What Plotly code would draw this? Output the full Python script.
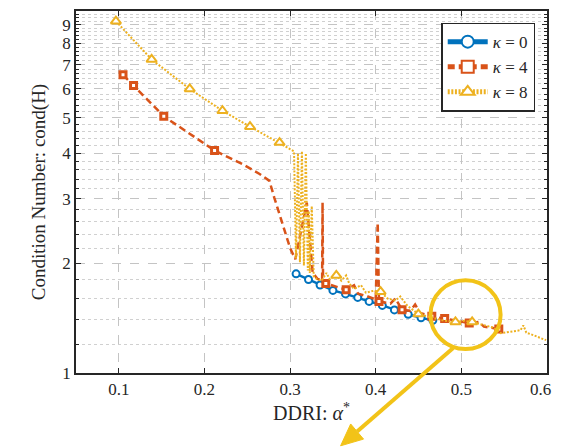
import plotly.graph_objects as go

# ---- data ----
k0_x = [0.307, 0.3215, 0.335, 0.350, 0.3647, 0.379, 0.3923, 0.4077, 0.4218, 0.4379, 0.4529, 0.4667]
k0_y = [1.869, 1.804, 1.742, 1.684, 1.647, 1.611, 1.571, 1.532, 1.489, 1.448, 1.416, 1.394]
k0_marks = list(range(len(k0_x)))

k4_x = [0.1049, 0.1172, 0.1525, 0.2118, 0.2448, 0.2644, 0.2759, 0.2816, 0.2908, 0.3000,
        0.3061, 0.3195, 0.3264, 0.3322, 0.3374, 0.3379, 0.3385, 0.3417, 0.3517, 0.3655,
        0.3747, 0.3793, 0.3908, 0.4000, 0.4023, 0.4038, 0.4172, 0.4230, 0.4307, 0.4402,
        0.4460, 0.4517, 0.4655, 0.4805, 0.4943, 0.5092, 0.5207, 0.5264, 0.5437]
k4_y = [6.56, 6.13, 5.05, 4.07, 3.73, 3.51, 3.36, 3.02, 2.56, 2.20,
        2.05, 2.93, 1.88, 1.81, 1.79, 2.93, 1.77, 1.76, 1.73, 1.69,
        1.74, 1.65, 1.62, 1.59, 2.58, 1.57, 1.55, 1.60, 1.49, 1.48,
        1.54, 1.46, 1.43, 1.41, 1.39, 1.37, 1.38, 1.34, 1.32]
k4_marks = [0, 1, 2, 3, 17, 19, 25, 28, 32, 33, 35, 38]

k8_x = [0.0966, 0.1383, 0.1828, 0.2210, 0.2532, 0.2877, 0.2966, 0.3046, 0.3069, 0.3092,
        0.3115, 0.3138, 0.3161, 0.3184, 0.3207, 0.3218, 0.3230, 0.3253, 0.3276, 0.3310,
        0.3368, 0.3425, 0.3460, 0.3540, 0.3598, 0.3655, 0.3690, 0.3747, 0.3828, 0.3885,
        0.3977, 0.4057, 0.4138, 0.4230, 0.4287, 0.4368, 0.4498, 0.4598, 0.4690, 0.4805,
        0.4931, 0.5034, 0.5126, 0.5264, 0.5379, 0.5460, 0.5609, 0.5690, 0.5724, 0.5759,
        0.5839, 0.5989]
k8_y = [9.20, 7.23, 6.00, 5.23, 4.73, 4.28, 4.15, 4.05, 2.06, 4.00,
        2.01, 4.05, 1.97, 4.00, 1.91, 2.78, 1.88, 2.87, 1.84, 1.81,
        1.79, 1.88, 1.81, 1.85, 1.79, 1.85, 1.76, 1.70, 1.74, 1.66,
        1.68, 1.67, 1.60, 1.58, 1.62, 1.53, 1.45, 1.43, 1.41, 1.39,
        1.38, 1.39, 1.38, 1.35, 1.33, 1.285, 1.30, 1.31, 1.35, 1.29,
        1.27, 1.23]
k8_marks = [0, 1, 2, 3, 4, 5, 23, 31, 36, 40, 42]

series_names = ["<i>κ</i> = 0", "<i>κ</i> = 4", "<i>κ</i> = 8"]
x_ticks = [0.1, 0.2, 0.3, 0.4, 0.5, 0.6]
y_ticks = [1, 2, 3, 4, 5, 6, 7, 8, 9]
y_minor = [round(1 + 0.2 * i, 1) for i in range(0, 45) if abs((1 + 0.2 * i) - round(1 + 0.2 * i)) > 1e-6]

# ---- styles ----
BLUE = "#0072BD"
ORANGE = "#D95319"
YELLOW = "#EDB120"
GOLD = "#F2C318"
FONT = "Liberation Serif, Times New Roman, serif"
TXT = "#262626"

# last x label nudged left (trailing spaces) so it stays inside the visible page
x_ticktext = [str(v) for v in x_ticks]
x_ticktext[-1] = x_ticktext[-1] + "&nbsp;&nbsp;&nbsp;"

fig = go.Figure()

specs = [
    (k0_x, k0_y, k0_marks, BLUE, "solid", 2.5, "circle", 7, 2),
    (k4_x, k4_y, k4_marks, ORANGE, "7px,4px", 2.5, "square", 6, 3),
    (k8_x, k8_y, k8_marks, YELLOW, "2px,1.6px", 2, "triangle-up", 9, 2),
]

for (xs, ys, mk, col, dash, lw, sym, ms, mlw), name in zip(specs, series_names):
    fig.add_trace(go.Scatter(x=xs, y=ys, mode="lines", showlegend=False,
                             line=dict(color=col, width=lw, dash=dash)))
    fig.add_trace(go.Scatter(x=[xs[i] for i in mk], y=[ys[i] for i in mk], mode="markers",
                             showlegend=False,
                             marker=dict(symbol=sym, size=ms, color="white",
                                         line=dict(color=col, width=mlw))))
    fig.add_trace(go.Scatter(x=[None], y=[None], mode="lines+markers", name=name,
                             line=dict(color=col, width=lw, dash=dash),
                             marker=dict(symbol=sym, size=ms, color="white",
                                         line=dict(color=col, width=mlw))))

fig.update_xaxes(
    range=[0.05, 0.6], tickvals=x_ticks, ticktext=x_ticktext,
    showline=True, linecolor="#262626", linewidth=1.5, mirror="ticks",
    ticks="inside", ticklen=5, tickwidth=1.2, tickcolor="#262626",
    showgrid=True, gridcolor="#c4c4c4", griddash="dash", gridwidth=1.3,
    zeroline=False, ticklabeloverflow="allow",
    tickfont=dict(family=FONT, size=17, color=TXT),
    title=dict(text="DDRI: <i>α</i><sup>*</sup>", font=dict(family=FONT, size=20, color=TXT), standoff=8),
)
fig.update_yaxes(
    type="log", range=[0, 0.9918], tickvals=y_ticks, ticktext=[str(v) for v in y_ticks],
    showline=True, linecolor="#262626", linewidth=1.5, mirror="ticks",
    ticks="inside", ticklen=5, tickwidth=1.2, tickcolor="#262626",
    showgrid=True, gridcolor="#c4c4c4", griddash="dash", gridwidth=1.3,
    zeroline=False, ticklabeloverflow="allow",
    minor=dict(tickvals=y_minor, ticks="inside", ticklen=3, tickcolor="#262626",
               showgrid=True, gridcolor="#d0d0d0", griddash="dot", gridwidth=1),
    tickfont=dict(family=FONT, size=17, color=TXT),
    title=dict(text="Condition Number: cond(H)", font=dict(family=FONT, size=19, color=TXT), standoff=12),
)

# highlight circle and arrow (decoration, paper coordinates)
fig.add_shape(type="circle", xref="paper", yref="paper",
              x0=0.7526, x1=0.9015, y0=0.0661, y1=0.2562,
              line=dict(color=GOLD, width=4))
fig.add_shape(type="line", xref="paper", yref="paper",
              x0=0.8008, y0=0.0689, x1=0.5969, y1=-0.1617,
              line=dict(color=GOLD, width=4))
fig.add_shape(type="path", xref="paper", yref="paper",
              path="M 0.5618 -0.2011 L 0.6105 -0.1826 L 0.5832 -0.1408 Z",
              fillcolor=GOLD, line=dict(color=GOLD, width=1))

# page body adds an 8px offset, so the figure is sized/margined to compensate
fig.update_layout(
    width=557, height=439,
    margin=dict(l=68, r=12, t=1, b=74),
    paper_bgcolor="white", plot_bgcolor="white",
    font=dict(family=FONT, color=TXT),
    legend=dict(x=0.975, y=0.968, xanchor="right", yanchor="top",
                bgcolor="white", bordercolor="#262626", borderwidth=1.5,
                font=dict(family=FONT, size=17, color=TXT),
                itemwidth=40, tracegroupgap=0, itemsizing="constant"),
)

fig.write_html("out.html")
